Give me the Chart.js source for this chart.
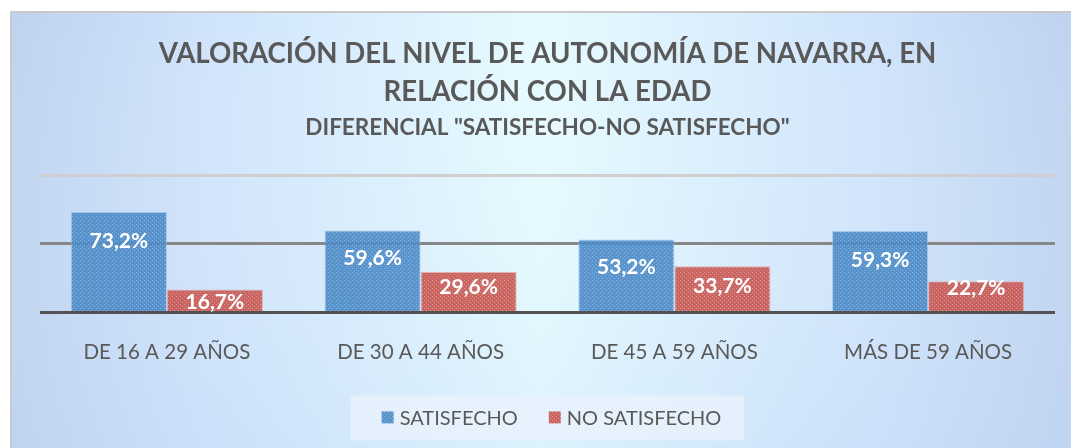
<!DOCTYPE html>
<html>
<head>
<meta charset="utf-8">
<script src="https://cdn.jsdelivr.net/npm/chart.js@4.4.1/dist/chart.umd.min.js"></script>
<style>
  html, body { margin: 0; padding: 0; background: #ffffff; }
  #wrap { width: 1071px; height: 448px; }
</style>
</head>
<body>
<div id="wrap"><canvas id="chart" width="1071" height="448"></canvas></div>
<script>
// Chart content
const categories = ['DE 16 A 29 AÑOS', 'DE 30 A 44 AÑOS', 'DE 45 A 59 AÑOS', 'MÁS DE 59 AÑOS'];
const satisfecho = [73.2, 59.6, 53.2, 59.3];
const noSatisfecho = [16.7, 29.6, 33.7, 22.7];
const seriesNames = ['SATISFECHO', 'NO SATISFECHO'];
const titleLines = ['VALORACIÓN DEL NIVEL DE AUTONOMÍA DE NAVARRA, EN', 'RELACIÓN CON LA EDAD'];
const subtitleText = 'DIFERENCIAL "SATISFECHO-NO SATISFECHO"';
const yTicks = [0, 50, 100];

// Styling
const TEXT = '#595959';
const FONT = 'Lato, "Open Sans", sans-serif';
// vertical offset (px) of each value label below its bar top
const labelOffsets = [[29, 28, 28, 29], [13, 15, 20, 7]];

// Small dotted texture used to fill the bars and legend swatches
function texture(base, light) {
  const p = document.createElement('canvas');
  p.width = 4; p.height = 4;
  const g = p.getContext('2d');
  g.fillStyle = base; g.fillRect(0, 0, 4, 4);
  g.clearRect(0, 0, 1, 1); g.clearRect(2, 2, 1, 1);
  g.fillStyle = light; g.fillRect(0, 0, 1, 1); g.fillRect(2, 2, 1, 1);
  return g.createPattern(p, 'repeat');
}
const bluePattern = texture('rgba(74,138,198,0.9)', 'rgba(128,172,218,0.9)');
const redPattern = texture('rgba(200,88,82,0.9)', 'rgba(222,136,130,0.9)');

const fmt = v => v.toFixed(1).replace('.', ',') + '%';

// Page background and chart frame
const backdrop = {
  id: 'backdrop',
  beforeDraw(chart) {
    const ctx = chart.ctx;
    const W = chart.width, H = chart.height;
    ctx.save();
    ctx.fillStyle = '#ffffff';
    ctx.fillRect(0, 0, W, H);
    const g = ctx.createLinearGradient(11, 0, W, 0);
    g.addColorStop(0, '#bfd3f0');
    g.addColorStop(0.18, '#cfe3fb');
    g.addColorStop(0.5, '#e6fbff');
    g.addColorStop(0.82, '#cfe3fb');
    g.addColorStop(1, '#bfd3f0');
    ctx.fillStyle = g;
    ctx.fillRect(11, 12, W - 11, H - 12);
    const v = ctx.createLinearGradient(0, 12, 0, H);
    v.addColorStop(0, 'rgba(255,255,255,0.0)');
    v.addColorStop(1, 'rgba(190,215,245,0.25)');
    ctx.fillStyle = v;
    ctx.fillRect(11, 12, W - 11, H - 12);
    ctx.fillStyle = '#c9c9c9';
    ctx.fillRect(10, 11, W - 10, 2);
    ctx.fillRect(10, 11, 2, H - 11);
    ctx.restore();
  }
};

// Legend panel below the category labels
const legendPanel = {
  id: 'legendPanel',
  afterDraw(chart) {
    const ctx = chart.ctx;
    const area = chart.chartArea;
    const cx = (area.left + area.right) / 2;
    const cy = area.bottom + 105;
    const fills = chart.data.datasets.map(d => d.backgroundColor);
    ctx.save();
    ctx.font = '20px ' + FONT;
    const sw = 12, gap = 6, itemGap = 31;
    const widths = seriesNames.map(n => ctx.measureText(n).width);
    const total = widths.reduce((s, w) => s + sw + gap + w, 0) + itemGap * (seriesNames.length - 1);
    let x = cx - total / 2 + 4;
    // panel
    ctx.fillStyle = texture('rgba(234,243,253,0.85)', 'rgba(214,230,248,0.85)');
    ctx.fillRect(x - 31, cy - 22, total + 54, 45);
    ctx.textBaseline = 'middle';
    ctx.textAlign = 'left';
    seriesNames.forEach((name, i) => {
      ctx.fillStyle = fills[i];
      ctx.fillRect(x, cy - 6, sw, sw);
      ctx.fillStyle = TEXT;
      ctx.fillText(name, x + sw + gap, cy + 1);
      x += sw + gap + widths[i] + itemGap;
    });
    ctx.restore();
  }
};

// Value labels drawn on the bars
const valueLabels = {
  id: 'valueLabels',
  afterDatasetsDraw(chart) {
    const ctx = chart.ctx;
    ctx.save();
    ctx.fillStyle = '#ffffff';
    ctx.font = 'bold 21px ' + FONT;
    ctx.textAlign = 'center';
    ctx.textBaseline = 'middle';
    chart.data.datasets.forEach((ds, di) => {
      chart.getDatasetMeta(di).data.forEach((bar, i) => {
        ctx.fillText(fmt(ds.data[i]), bar.x, bar.y + labelOffsets[di][i]);
      });
    });
    ctx.restore();
  }
};

const gridColors = { 0: '#525252', 50: '#878787', 100: '#cfcfcf' };

new Chart(document.getElementById('chart'), {
  type: 'bar',
  data: {
    labels: categories,
    datasets: [
      { label: seriesNames[0], data: satisfecho, backgroundColor: bluePattern,
        borderColor: 'rgba(150,190,228,0.7)', borderWidth: 1,
        categoryPercentage: 0.757, barPercentage: 1 },
      { label: seriesNames[1], data: noSatisfecho, backgroundColor: redPattern,
        borderColor: 'rgba(232,160,155,0.7)', borderWidth: 1,
        categoryPercentage: 0.757, barPercentage: 1 }
    ]
  },
  options: {
    responsive: false,
    animation: false,
    devicePixelRatio: 1,
    layout: { padding: { left: 40, right: 16, top: 0, bottom: 55 } },
    plugins: {
      title: {
        display: true,
        text: titleLines,
        color: TEXT,
        font: { family: FONT, size: 27.6, weight: 'bold', lineHeight: 1.38 },
        padding: { top: 35, bottom: 0 }
      },
      subtitle: {
        display: true,
        text: subtitleText,
        color: TEXT,
        font: { family: FONT, size: 22.5, weight: 'bold', lineHeight: 1.2 },
        padding: { top: 3, bottom: 34 }
      },
      legend: { display: false },
      tooltip: { enabled: false }
    },
    scales: {
      x: {
        grid: { display: false, drawTicks: false },
        border: { display: false },
        ticks: { color: TEXT, font: { family: FONT, size: 20.5 }, padding: 28 }
      },
      y: {
        min: yTicks[0],
        max: yTicks[yTicks.length - 1],
        afterBuildTicks(scale) { scale.ticks = yTicks.map(v => ({ value: v })); },
        ticks: { display: false },
        border: { display: false },
        grid: {
          drawTicks: false,
          lineWidth: 3,
          color: ctx => gridColors[ctx.tick.value] || '#999999'
        }
      }
    }
  },
  plugins: [backdrop, valueLabels, legendPanel]
});
</script>
</body>
</html>
